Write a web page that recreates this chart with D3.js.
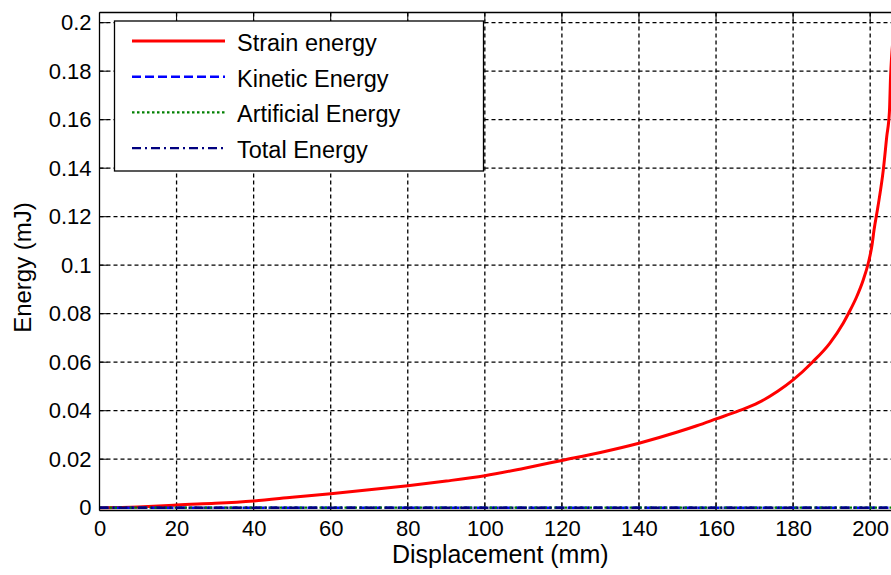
<!DOCTYPE html>
<html>
<head>
<meta charset="utf-8">
<script src="https://cdn.jsdelivr.net/npm/d3@7"></script>
<style>
  html, body { margin: 0; padding: 0; background: #fff; }
  svg { display: block; font-family: "Liberation Sans", Arial, sans-serif; }
</style>
</head>
<body>
<svg id="chart" width="891" height="575"></svg>
<script>
// Strain energy against crosshead displacement
const displacement = [0, 10, 18, 20, 30, 40, 50, 60, 70, 80, 90, 100, 110, 120, 130, 140, 150, 155, 160, 166, 171, 176, 180, 185, 189.5, 193, 194.5, 196.5, 198.2, 199.5, 200.5, 201, 202, 203.4, 204.3, 205, 205.3, 206.5];
const strainEnergy = [0, 0.0003, 0.0009, 0.0011, 0.0018, 0.0028, 0.0043, 0.0058, 0.0074, 0.0091, 0.011, 0.0132, 0.0162, 0.0195, 0.0228, 0.0266, 0.0312, 0.0338, 0.0366, 0.04, 0.0433, 0.048, 0.0527, 0.06, 0.0678, 0.0761, 0.0805, 0.087, 0.0939, 0.1008, 0.1085, 0.1145, 0.124, 0.1392, 0.153, 0.1634, 0.178, 0.2];

// The remaining energies stay at zero over the whole stroke
const flatDisplacement = [0, 50, 100, 150, 200, 208];
const kineticEnergy = [0, 0, 0, 0, 0, 0];
const artificialEnergy = [0, 0, 0, 0, 0, 0];
const totalEnergy = [0, 0, 0, 0, 0, 0];

const xTicks = [0, 20, 40, 60, 80, 100, 120, 140, 160, 180, 200];
const xTickLabels = ["0", "20", "40", "60", "80", "100", "120", "140", "160", "180", "200"];
const yTicks = [0, 0.02, 0.04, 0.06, 0.08, 0.1, 0.12, 0.14, 0.16, 0.18, 0.2];
const yTickLabels = ["0", "0.02", "0.04", "0.06", "0.08", "0.1", "0.12", "0.14", "0.16", "0.18", "0.2"];

const seriesNames = ["Strain energy", "Kinetic Energy", "Artificial Energy", "Total Energy"];
const seriesColors = ["#ff0000", "#0000ff", "#008000", "#00007f"];
const seriesDash = [null, "9,4", "2.5,2.5", "9,4,2,4"];
const seriesWidth = [3, 2.4, 2.2, 2.4];

const xLabel = "Displacement (mm)";
const yLabel = "Energy (mJ)";

// Axes box
const box = { left: 99.5, top: 12.5, right: 901, bottom: 510.5 };
const xDomain = [0, 208];
const yDomain = [-0.00115, 0.2042];

const svg = d3.select("#chart");
const x = d3.scaleLinear().domain(xDomain).range([box.left, box.right]);
const y = d3.scaleLinear().domain(yDomain).range([box.bottom, box.top]);

svg.append("rect").attr("width", 891).attr("height", 575).attr("fill", "#fff");

svg.append("defs").append("clipPath").attr("id", "plotClip")
  .append("rect")
  .attr("x", box.left).attr("y", box.top)
  .attr("width", box.right - box.left).attr("height", box.bottom - box.top);

// Dashed grid
const grid = svg.append("g").attr("stroke", "#000").attr("stroke-width", 1.3)
  .attr("stroke-dasharray", "4,3").attr("fill", "none");
grid.selectAll("line.v").data(xTicks.slice(1)).join("line").attr("class", "v")
  .attr("x1", d => x(d)).attr("x2", d => x(d))
  .attr("y1", box.top).attr("y2", box.bottom);
grid.selectAll("line.h").data(yTicks.slice(1)).join("line").attr("class", "h")
  .attr("x1", box.left).attr("x2", box.right)
  .attr("y1", d => y(d)).attr("y2", d => y(d));

// Inward tick marks
const tickLen = 8;
const ticks = svg.append("g").attr("stroke", "#000").attr("stroke-width", 1);
xTicks.forEach(t => {
  ticks.append("line").attr("x1", x(t)).attr("x2", x(t)).attr("y1", box.bottom).attr("y2", box.bottom - tickLen);
  ticks.append("line").attr("x1", x(t)).attr("x2", x(t)).attr("y1", box.top).attr("y2", box.top + tickLen);
});
yTicks.forEach(t => {
  ticks.append("line").attr("x1", box.left).attr("x2", box.left + tickLen).attr("y1", y(t)).attr("y2", y(t));
});

// Series
const series = [
  { xs: displacement, ys: strainEnergy },
  { xs: flatDisplacement, ys: kineticEnergy },
  { xs: flatDisplacement, ys: artificialEnergy },
  { xs: flatDisplacement, ys: totalEnergy }
];
const line = d3.line().x(d => x(d[0])).y(d => y(d[1])).curve(d3.curveMonotoneX);
const plot = svg.append("g").attr("clip-path", "url(#plotClip)");
series.forEach((s, i) => {
  plot.append("path")
    .datum(s.xs.map((v, j) => [v, s.ys[j]]))
    .attr("d", line)
    .attr("fill", "none")
    .attr("stroke", seriesColors[i])
    .attr("stroke-width", seriesWidth[i])
    .attr("stroke-dasharray", seriesDash[i])
    .attr("stroke-linejoin", "round");
});

// Box outline
const frame = svg.append("g").attr("stroke", "#000").attr("stroke-width", 1.3).attr("fill", "none");
frame.append("line").attr("x1", box.left).attr("x2", box.left).attr("y1", box.top).attr("y2", box.bottom);
frame.append("line").attr("x1", box.left).attr("x2", box.right).attr("y1", box.bottom).attr("y2", box.bottom);
frame.append("line").attr("x1", box.left).attr("x2", box.right).attr("y1", box.top).attr("y2", box.top);

// Tick labels through d3 axes
const xAxis = d3.axisBottom(x).tickValues(xTicks).tickSize(0).tickPadding(10)
  .tickFormat((d, i) => xTickLabels[i]);
const gx = svg.append("g").attr("transform", `translate(0,${box.bottom})`).call(xAxis);
gx.select(".domain").remove();
gx.selectAll("text").attr("font-size", 22).attr("font-family", "Liberation Sans, Arial, sans-serif").attr("fill", "#000");

const yAxis = d3.axisLeft(y).tickValues(yTicks).tickSize(0).tickPadding(8)
  .tickFormat((d, i) => yTickLabels[i]);
const gy = svg.append("g").attr("transform", `translate(${box.left},0)`).call(yAxis);
gy.select(".domain").remove();
gy.selectAll("text").attr("font-size", 22).attr("font-family", "Liberation Sans, Arial, sans-serif").attr("fill", "#000");

// Axis titles
svg.append("text").attr("x", (box.left + box.right) / 2).attr("y", 563)
  .attr("text-anchor", "middle").attr("font-size", 25).attr("fill", "#000").text(xLabel);
svg.append("text")
  .attr("transform", `translate(31,${(box.top + box.bottom) / 2 + 6}) rotate(-90)`)
  .attr("text-anchor", "middle").attr("font-size", 24).attr("fill", "#000").text(yLabel);

// Legend
const lg = { x: 114.5, y: 21, w: 369, h: 150, rowY: 41, rowStep: 35.7 };
const legend = svg.append("g");
legend.append("rect").attr("x", lg.x).attr("y", lg.y).attr("width", lg.w).attr("height", lg.h)
  .attr("fill", "#fff").attr("stroke", "#000").attr("stroke-width", 1.3);
seriesNames.forEach((name, i) => {
  const ry = lg.rowY + i * lg.rowStep;
  legend.append("line").attr("x1", 132).attr("x2", 225).attr("y1", ry).attr("y2", ry)
    .attr("stroke", seriesColors[i]).attr("stroke-width", seriesWidth[i])
    .attr("stroke-dasharray", seriesDash[i]);
  legend.append("text").attr("x", 237).attr("y", ry + 10)
    .attr("font-size", 23.5).attr("fill", "#000").text(name);
});
</script>
</body>
</html>
